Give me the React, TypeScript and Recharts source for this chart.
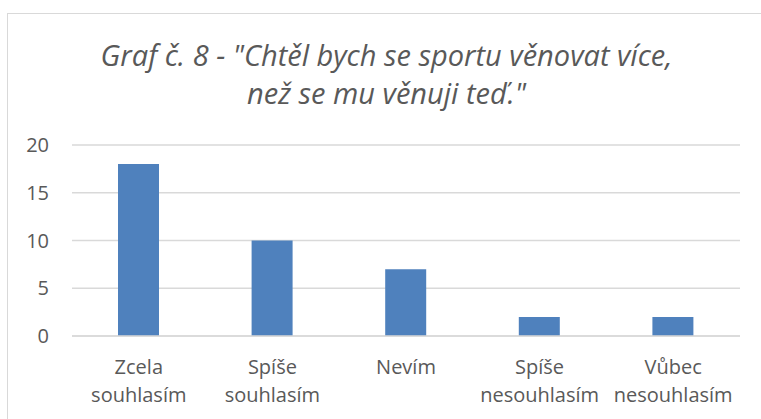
import { BarChart, Bar, XAxis, YAxis, CartesianGrid } from "recharts";

const answers = ["Zcela souhlasím", "Spíše souhlasím", "Nevím", "Spíše nesouhlasím", "Vůbec nesouhlasím"];
const counts = [18, 10, 7, 2, 2];
const yTicks = [0, 5, 10, 15, 20];
const titleLines = ["Graf č. 8 - \"Chtěl bych se sportu věnovat více,", "než se mu věnuji teď.\""];

const data = answers.map((a, i) => ({ answer: a, count: counts[i] }));

const TEXT = "#595959";
const GRID = "#d9d9d9";
const FONT = "'Open Sans', sans-serif";

function CatTick({ x, y, payload }: any) {
  const words = String(payload.value).split(" ");
  return (
    <text x={x} y={y} textAnchor="middle" fill={TEXT} fontSize={20} fontFamily={FONT}>
      {words.map((w, i) => (
        <tspan key={i} x={x} dy={i === 0 ? 30 : 28}>{w}</tspan>
      ))}
    </text>
  );
}

export default function App() {
  return (
    <div style={{ position: "absolute", left: 0, top: 0, width: 761, height: 419, background: "#fff", overflow: "hidden" }}>
      {/* chart frame, runs off the right and bottom edges */}
      <div style={{ position: "absolute", left: 7, top: 13, width: 800, height: 450, border: `1px solid ${GRID}` }} />

      <div style={{
        position: "absolute", left: 0, top: 36, width: 773, textAlign: "center",
        fontFamily: FONT, fontStyle: "italic", fontSize: 29, lineHeight: "38px", color: TEXT,
      }}>
        {titleLines.map((l) => <div key={l}>{l}</div>)}
      </div>

      <div style={{ position: "absolute", left: 0, top: 0 }}>
        <BarChart width={761} height={419} data={data} margin={{ top: 145, right: 21, bottom: 53, left: 0 }}>
          <CartesianGrid vertical={false} stroke={GRID} strokeWidth={1.5} />
          <XAxis dataKey="answer" interval={0} axisLine={{ stroke: GRID, strokeWidth: 1.5 }} tickLine={false}
            tick={<CatTick />} />
          <YAxis width={72} domain={[0, 20]} ticks={yTicks} axisLine={false} tickLine={false} tickMargin={17}
            tick={{ fill: TEXT, fontSize: 20, fontFamily: FONT }} />
          <Bar dataKey="count" fill="#4F81BD" barSize={41} isAnimationActive={false} />
        </BarChart>
      </div>
    </div>
  );
}
